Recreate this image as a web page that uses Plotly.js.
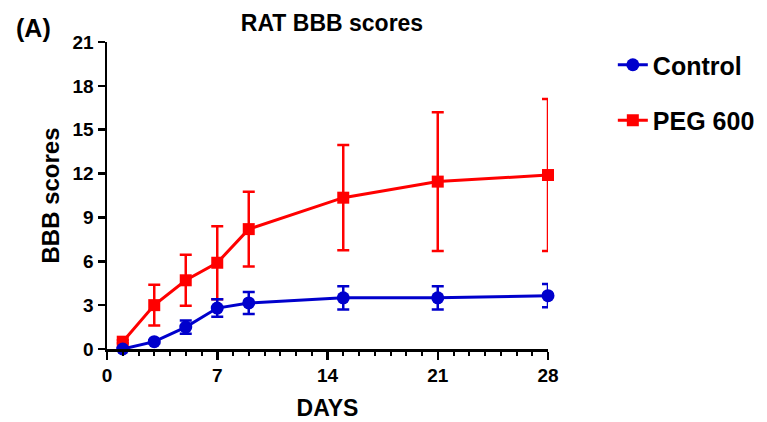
<!DOCTYPE html>
<html>
<head>
<meta charset="utf-8">
<script src="https://cdn.plot.ly/plotly-3.0.1.min.js"></script>
<style>html,body{margin:0;padding:0;background:#fff;}#chart{width:767px;height:422px;}</style>
</head>
<body>
<div id="chart"></div>
<script>
const days = [1, 3, 5, 7, 9, 15, 21, 28];
const controlMean = [0, 0.5, 1.5, 2.8, 3.15, 3.5, 3.5, 3.65];
const controlErr = [0.05, 0.1, 0.45, 0.6, 0.75, 0.8, 0.8, 0.8];
const pegMean = [0.5, 3.0, 4.7, 5.9, 8.2, 10.35, 11.45, 11.9];
const pegErr = [0.1, 1.4, 1.75, 2.5, 2.55, 3.6, 4.75, 5.2];
const xTicks = [0, 7, 14, 21, 28];
const yTicks = [0, 3, 6, 9, 12, 15, 18, 21];

const FONT = 'Liberation Sans, Arial, sans-serif';
const RED = '#ff0000';
const BLUE = '#0000cc';

const traces = [
  {
    x: days, y: pegMean, name: 'PEG 600', type: 'scatter', mode: 'lines+markers',
    legendrank: 2, legendgroup: 'b',
    line: {color: RED, width: 3},
    marker: {symbol: 'square', size: 12, color: RED},
    error_y: {type: 'data', array: pegErr, visible: true, color: RED, thickness: 2.5, width: 6},
    cliponaxis: false
  },
  {
    x: days, y: controlMean, name: 'Control', type: 'scatter', mode: 'lines+markers',
    legendrank: 1, legendgroup: 'a',
    line: {color: BLUE, width: 3},
    marker: {symbol: 'circle', size: 13, color: BLUE},
    error_y: {type: 'data', array: controlErr, visible: true, color: BLUE, thickness: 2.5, width: 6},
    cliponaxis: false
  }
];

const layout = {
  width: 767, height: 422,
  margin: {l: 107, r: 219, t: 42, b: 73, autoexpand: false},
  paper_bgcolor: '#fff', plot_bgcolor: '#fff',
  font: {family: FONT, color: '#000'},
  title: {text: '<b>RAT BBB scores</b>', x: 332 / 767, xanchor: 'center', y: 1 - 23 / 422, yanchor: 'middle', font: {size: 23, family: FONT, color: '#000'}},
  showlegend: true,
  legend: {
    x: 1.147, y: 1.0, xanchor: 'left', yanchor: 'top',
    font: {size: 25, family: FONT, color: '#000', weight: 'bold'},
    traceorder: 'grouped', tracegroupgap: 20, bgcolor: 'rgba(0,0,0,0)'
  },
  xaxis: {
    range: [0, 28], tickvals: xTicks, ticktext: xTicks.map(v => '<b>' + v + '</b>'),
    showgrid: false, zeroline: false, showline: true, linecolor: '#000', linewidth: 2.5,
    ticks: 'outside', ticklen: 8, tickwidth: 2.5, tickcolor: '#000',
    tickfont: {size: 19, family: FONT, color: '#000'},
    minor: {dtick: 1, tick0: 0, ticks: 'outside', ticklen: 4, tickwidth: 2, tickcolor: '#000', showgrid: false},
    title: {text: '<b>DAYS</b>', font: {size: 23, family: FONT, color: '#000'}, standoff: 15}
  },
  yaxis: {
    range: [0, 21], tickvals: yTicks, ticktext: yTicks.map(v => '<b>' + v + '</b>'),
    showgrid: false, zeroline: false, showline: true, linecolor: '#000', linewidth: 2.5,
    ticks: 'outside', ticklen: 7, tickwidth: 2.5, tickcolor: '#000',
    tickfont: {size: 19, family: FONT, color: '#000'},
    title: {text: '<b>BBB scores</b>', font: {size: 24, family: FONT, color: '#000'}, standoff: 6}
  },
  annotations: [
    {text: '<b>(A)</b>', xref: 'paper', yref: 'paper', x: (14 - 107) / 441, y: (349 - 28) / 307, xanchor: 'left', yanchor: 'middle',
     showarrow: false, font: {size: 25, family: FONT, color: '#000'}}
  ]
};

Plotly.newPlot('chart', traces, layout, {displayModeBar: false, staticPlot: true});
</script>
</body>
</html>
